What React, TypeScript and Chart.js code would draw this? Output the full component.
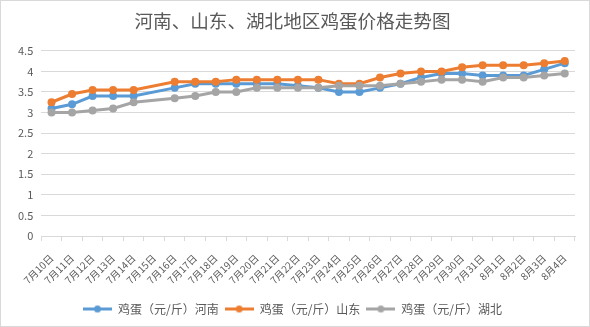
import React, { useEffect, useRef } from "react";
import { Chart, registerables } from "chart.js";

Chart.register(...registerables);

const categories = [
  "7月10日", "7月11日", "7月12日", "7月13日", "7月14日", "7月15日", "7月16日",
  "7月17日", "7月18日", "7月19日", "7月20日", "7月21日", "7月22日", "7月23日",
  "7月24日", "7月25日", "7月26日", "7月27日", "7月28日", "7月29日", "7月30日",
  "7月31日", "8月1日", "8月2日", "8月3日", "8月4日",
];

const henan = [3.1, 3.2, 3.4, 3.4, 3.4, null, 3.6, 3.7, 3.7, 3.7, 3.7, 3.7, 3.65, 3.6, 3.5, 3.5, 3.6, 3.7, 3.85, 3.95, 3.95, 3.9, 3.9, 3.9, 4.05, 4.2];
const shandong = [3.25, 3.45, 3.55, 3.55, 3.55, null, 3.75, 3.75, 3.75, 3.8, 3.8, 3.8, 3.8, 3.8, 3.7, 3.7, 3.85, 3.95, 4.0, 4.0, 4.1, 4.15, 4.15, 4.15, 4.2, 4.25];
const hubei = [3.0, 3.0, 3.05, 3.1, 3.25, null, 3.35, 3.4, 3.5, 3.5, 3.6, 3.6, 3.6, 3.6, 3.65, 3.65, 3.65, 3.7, 3.75, 3.8, 3.8, 3.75, 3.85, 3.85, 3.9, 3.95];

const seriesNames = ["鸡蛋（元/斤）河南", "鸡蛋（元/斤）山东", "鸡蛋（元/斤）湖北"];
const seriesColors = ["#5B9BD5", "#ED7D31", "#A5A5A5"];
const title = "河南、山东、湖北地区鸡蛋价格走势图";

const FONT = "'Noto Sans CJK SC', 'Noto Sans', sans-serif";
const TEXT = "#595959";

function legendIcon(color: string) {
  const c = document.createElement("canvas");
  c.width = 29;
  c.height = 9;
  const ctx = c.getContext("2d")!;
  ctx.strokeStyle = color;
  ctx.lineWidth = 3;
  ctx.beginPath();
  ctx.moveTo(0, 4.5);
  ctx.lineTo(29, 4.5);
  ctx.stroke();
  ctx.fillStyle = color;
  ctx.beginPath();
  ctx.arc(14.5, 4.5, 3.5, 0, Math.PI * 2);
  ctx.fill();
  return c;
}

export default function App() {
  const ref = useRef<HTMLCanvasElement | null>(null);
  useEffect(() => {
    if (!ref.current) return;
    const values = [henan, shandong, hubei];
    const chart = new Chart(ref.current, {
      type: "line",
      data: {
        labels: categories,
        datasets: values.map((v, i) => ({
          label: seriesNames[i],
          data: v,
          borderColor: seriesColors[i],
          backgroundColor: seriesColors[i],
          borderWidth: 3,
          pointRadius: 4,
          pointBorderWidth: 0,
          pointStyle: "circle",
          spanGaps: true,
          tension: 0,
          order: 3 - i,
        })),
      },
      options: {
        animation: false,
        responsive: false,
        maintainAspectRatio: false,
        layout: { padding: { left: 9, right: 14, top: 0, bottom: 1 } },
        plugins: {
          title: {
            display: true,
            text: title,
            color: TEXT,
            font: { family: FONT, size: 18.6, weight: "normal" },
            padding: { top: 9, bottom: 18.5 },
          },
          legend: {
            position: "bottom",
            labels: {
              usePointStyle: true,
              pointStyleWidth: 29,
              padding: 6,
              color: TEXT,
              font: { family: FONT, size: 12 },
              generateLabels: (ch: any) =>
                ch.data.datasets.map((ds: any, i: number) => ({
                  text: ds.label,
                  fillStyle: ds.borderColor,
                  strokeStyle: ds.borderColor,
                  lineWidth: 0,
                  pointStyle: legendIcon(ds.borderColor),
                  hidden: false,
                  datasetIndex: i,
                  fontColor: TEXT,
                })),
            },
          },
          tooltip: { enabled: false },
        },
        scales: {
          x: {
            offset: true,
            afterFit: (scale: any) => {
              scale.height = 61;
            },
            grid: {
              offset: true,
              drawOnChartArea: false,
              drawTicks: true,
              tickLength: 5,
              color: "#D9D9D9",
            },
            border: { color: "#D9D9D9", width: 1 },
            ticks: {
              color: TEXT,
              font: { family: FONT, size: 10 },
              minRotation: 45,
              maxRotation: 45,
              autoSkip: false,
              padding: 11,
            },
          },
          y: {
            min: 0,
            max: 4.5,
            grid: { color: "#D9D9D9", drawTicks: false },
            border: { display: false },
            ticks: {
              stepSize: 0.5,
              color: TEXT,
              font: { family: FONT, size: 11 },
              padding: 8,
              callback: (v: any) => String(Number(v)),
            },
          },
        },
      },
    });
    return () => chart.destroy();
  }, []);
  return (
    <div
      style={{
        position: "absolute",
        left: 0,
        top: 0,
        width: 590,
        height: 327,
        boxSizing: "border-box",
        border: "1px solid #D9D9D9",
        background: "#fff",
      }}
    >
      <canvas ref={ref} width={588} height={325} style={{ display: "block" }} />
    </div>
  );
}
